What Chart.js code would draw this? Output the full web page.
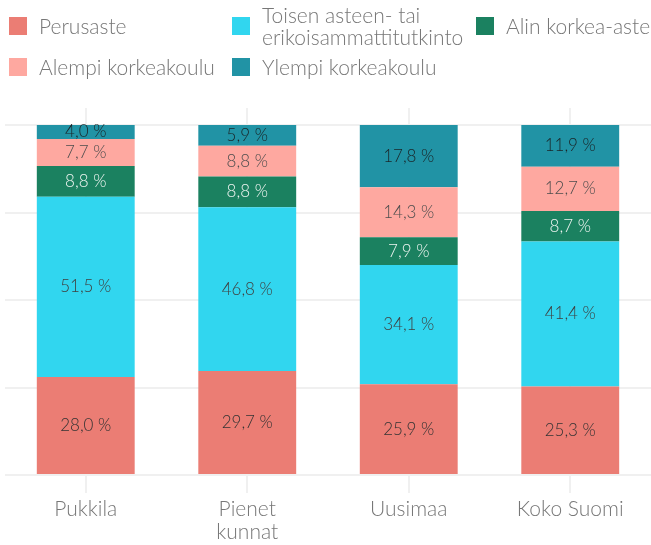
<!DOCTYPE html>
<html>
<head>
<meta charset="utf-8">
<script src="https://cdn.jsdelivr.net/npm/chart.js@4/dist/chart.umd.min.js"></script>
<style>
  body { margin: 0; background: #fff; }
  #wrap { position: relative; width: 651px; height: 545px; }
  #chart { position: absolute; left: 0; top: 0; }
  .item { position: absolute; display: flex; align-items: center; font-family: Lato, sans-serif; font-weight: 300; font-size: 21px; color: #777; line-height: 22px; white-space: nowrap; }
  .box { width: 18px; height: 18px; margin-right: 12px; flex: none; }
</style>
</head>
<body>
<div id="wrap">
  <canvas id="chart" width="651" height="545"></canvas>
  <div id="legend"></div>
</div>
<script>
const $ = (id) => document.getElementById(id);

// data
const categories = ['Pukkila', ['Pienet', 'kunnat'], 'Uusimaa', 'Koko Suomi'];
const seriesNames = ['Perusaste', 'Toisen asteen- tai\nerikoisammattitutkinto', 'Alin korkea-aste', 'Alempi korkeakoulu', 'Ylempi korkeakoulu'];
const perusaste = [28.0, 29.7, 25.9, 25.3];
const toinenAste = [51.5, 46.8, 34.1, 41.4];
const alinKorkea = [8.8, 8.8, 7.9, 8.7];
const alempiKorkea = [7.7, 8.8, 14.3, 12.7];
const ylempiKorkea = [4.0, 5.9, 17.8, 11.9];
const yTicks = [0, 25, 50, 75, 100];

const colors = ['#EB7D74', '#31D6EF', '#1B8160', '#FEA8A0', '#2193A5'];
const labelColors = ['#333333', '#404040', '#eef5f1', '#4d4d4d', '#1a2427'];
// legend positions (left, top of box row)
const legendPos = [[9, 17], [232, 17], [476, 17], [9, 58], [232, 58]];

const seriesValues = [perusaste, toinenAste, alinKorkea, alempiKorkea, ylempiKorkea];

const datasets = seriesValues.map((vals, i) => ({
    label: seriesNames[i],
    data: vals,
    backgroundColor: colors[i],
    borderWidth: 0,
    barPercentage: 0.606,
    categoryPercentage: 1
}));

// HTML legend
const legend = $('legend');
datasets.forEach((ds, i) => {
    const item = document.createElement('div');
    item.className = 'item';
    item.style.left = legendPos[i][0] + 'px';
    item.style.top = (legendPos[i][1] + 9) + 'px';
    item.style.transform = 'translateY(-50%)';
    const box = document.createElement('span');
    box.className = 'box';
    box.style.background = ds.backgroundColor;
    const txt = document.createElement('span');
    txt.innerHTML = ds.label.split('\n').join('<br>');
    item.appendChild(box);
    item.appendChild(txt);
    legend.appendChild(item);
});

// vertical lines through category centres, drawn under the bars
const centreLines = {
    id: 'centreLines',
    beforeDatasetsDraw(chart) {
        const { ctx, chartArea, scales } = chart;
        ctx.save();
        ctx.strokeStyle = '#f0f0f0';
        ctx.lineWidth = 2;
        categories.forEach((c, i) => {
            const x = Math.round(scales.x.getPixelForValue(i));
            ctx.beginPath();
            ctx.moveTo(x, chartArea.top - 17);
            ctx.lineTo(x, chartArea.bottom + 18);
            ctx.stroke();
        });
        ctx.restore();
    }
};

// value labels inside segments
const valueLabels = {
    id: 'valueLabels',
    afterDatasetsDraw(chart) {
        const { ctx } = chart;
        ctx.save();
        ctx.font = '300 17px Lato, sans-serif';
        ctx.textAlign = 'center';
        ctx.textBaseline = 'middle';
        chart.data.datasets.forEach((ds, di) => {
            chart.getDatasetMeta(di).data.forEach((bar, i) => {
                const v = ds.data[i];
                ctx.fillStyle = labelColors[di];
                const y = (bar.y + bar.base) / 2;
                ctx.fillText(v.toFixed(1).replace('.', ',') + ' %', bar.x, y);
            });
        });
        ctx.restore();
    }
};

new Chart($('chart'), {
    type: 'bar',
    data: { labels: categories, datasets },
    options: {
        responsive: false,
        animation: false,
        layout: { padding: { top: 125, left: 5, right: 0, bottom: 0 } },
        plugins: { legend: { display: false }, tooltip: { enabled: false } },
        scales: {
            x: {
                stacked: true,
                grid: { display: false },
                border: { display: false },
                afterFit: (axis) => { axis.height = 70; },
                ticks: {
                    color: '#777',
                    padding: 15,
                    font: { family: 'Lato, sans-serif', size: 21, weight: 300, lineHeight: 1.08 }
                }
            },
            y: {
                stacked: true,
                min: 0,
                max: 100,
                afterBuildTicks: (axis) => { axis.ticks = yTicks.map(v => ({ value: v })); },
                grid: { color: '#f0f0f0', lineWidth: 2, drawTicks: false },
                border: { display: false },
                ticks: { display: false }
            }
        }
    },
    plugins: [centreLines, valueLabels]
});
</script>
</body>
</html>
